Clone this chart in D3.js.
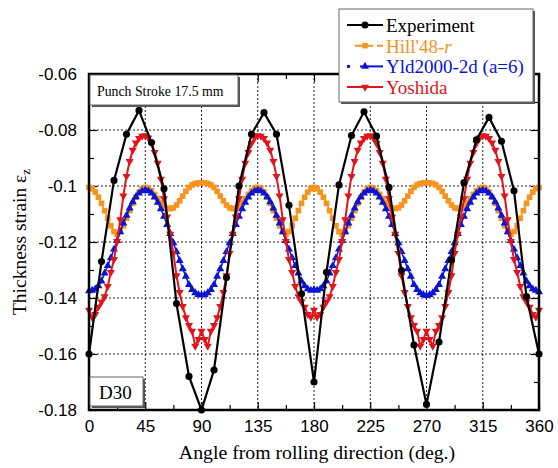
<!DOCTYPE html>
<html>
<head>
<meta charset="utf-8">
<script src="https://cdn.jsdelivr.net/npm/d3@7"></script>
<style>
  body { margin: 0; background: #fff; }
  svg { display: block; }
  .serif { font-family: "Liberation Serif", "DejaVu Serif", serif; }
  .tick text { font-family: "Liberation Sans", Arial, sans-serif; font-size: 17px; fill: #000; }
</style>
</head>
<body>
<script>
// ---- data ----
var xTicks = [0, 45, 90, 135, 180, 225, 270, 315, 360];
var yTicks = [-0.18, -0.16, -0.14, -0.12, -0.1, -0.08, -0.06];

// measured angles (every 10 deg)
var expAngles = [0,10,20,30,40,50,60,70,80,90,100,110,120,130,140,150,160,170,180,
  190,200,210,220,230,240,250,260,270,280,290,300,310,320,330,340,350,360];
var experiment = [-0.160,-0.127,-0.098,-0.0815,-0.073,-0.0845,-0.101,-0.142,-0.168,-0.180,
  -0.1657,-0.1327,-0.100,-0.0815,-0.0738,-0.0815,-0.1069,-0.1385,-0.170,
  -0.1308,-0.0996,-0.082,-0.0735,-0.0822,-0.1005,-0.1302,-0.1568,-0.178,-0.1557,
  -0.1264,-0.0988,-0.0835,-0.0755,-0.084,-0.1017,-0.1395,-0.160];

// model curves, sampled every 2.5 deg from 0 to 360
var modelAngles = d3.range(0, 360.01, 2.5);

var hill48 = [
  -0.1005,-0.1010,-0.1022,-0.1040,-0.1062,-0.1088,-0.1115,-0.1142,-0.1163,-0.1172,
  -0.1163,-0.1142,-0.1115,-0.1088,-0.1062,-0.1040,-0.1022,-0.1010,-0.1005,-0.1008,
  -0.1017,-0.1030,-0.1045,-0.1060,-0.1072,-0.1079,-0.1081,-0.1078,-0.1068,-0.1053,
  -0.1036,-0.1019,-0.1005,-0.0996,-0.0991,-0.0989,-0.0988,-0.0989,-0.0991,-0.0996,
  -0.1005,-0.1019,-0.1036,-0.1053,-0.1068,-0.1078,-0.1081,-0.1079,-0.1072,-0.1060,
  -0.1045,-0.1030,-0.1017,-0.1008,-0.1005,-0.1010,-0.1022,-0.1040,-0.1062,-0.1088,
  -0.1115,-0.1142,-0.1163,-0.1172,-0.1163,-0.1142,-0.1115,-0.1088,-0.1062,-0.1040,
  -0.1022,-0.1010,-0.1005,
  -0.1010,-0.1022,-0.1040,-0.1062,-0.1088,-0.1115,-0.1142,-0.1163,-0.1172,
  -0.1163,-0.1142,-0.1115,-0.1088,-0.1062,-0.1040,-0.1022,-0.1010,-0.1005,-0.1008,
  -0.1017,-0.1030,-0.1045,-0.1060,-0.1072,-0.1079,-0.1081,-0.1078,-0.1068,-0.1053,
  -0.1036,-0.1019,-0.1005,-0.0996,-0.0991,-0.0989,-0.0988,-0.0989,-0.0991,-0.0996,
  -0.1005,-0.1019,-0.1036,-0.1053,-0.1068,-0.1078,-0.1081,-0.1079,-0.1072,-0.1060,
  -0.1045,-0.1030,-0.1017,-0.1008,-0.1005,-0.1010,-0.1022,-0.1040,-0.1062,-0.1088,
  -0.1115,-0.1142,-0.1163,-0.1172,-0.1163,-0.1142,-0.1115,-0.1088,-0.1062,-0.1040,
  -0.1022,-0.1010,-0.1005];

var yld2000 = [
  -0.1375,-0.1373,-0.1368,-0.1357,-0.1340,-0.1311,-0.1285,-0.1257,-0.1226,-0.1195,
  -0.1164,-0.1133,-0.1105,-0.1079,-0.1057,-0.1039,-0.1026,-0.1018,-0.1015,-0.1018,
  -0.1026,-0.1040,-0.1059,-0.1082,-0.1109,-0.1138,-0.1170,-0.1203,-0.1235,-0.1267,
  -0.1296,-0.1323,-0.1352,-0.1370,-0.1382,-0.1388,-0.1390,-0.1388,-0.1382,-0.1370,
  -0.1352,-0.1323,-0.1296,-0.1267,-0.1235,-0.1203,-0.1170,-0.1138,-0.1109,-0.1082,
  -0.1059,-0.1040,-0.1026,-0.1018,-0.1015,-0.1018,-0.1026,-0.1039,-0.1057,-0.1079,
  -0.1105,-0.1133,-0.1164,-0.1195,-0.1226,-0.1257,-0.1285,-0.1311,-0.1340,-0.1357,
  -0.1368,-0.1373,-0.1370,
  -0.1373,-0.1368,-0.1357,-0.1340,-0.1311,-0.1285,-0.1257,-0.1226,-0.1195,
  -0.1164,-0.1133,-0.1105,-0.1079,-0.1057,-0.1039,-0.1026,-0.1018,-0.1015,-0.1018,
  -0.1026,-0.1040,-0.1059,-0.1082,-0.1109,-0.1138,-0.1170,-0.1203,-0.1235,-0.1267,
  -0.1296,-0.1323,-0.1352,-0.1370,-0.1382,-0.1388,-0.1392,-0.1388,-0.1382,-0.1370,
  -0.1352,-0.1323,-0.1296,-0.1267,-0.1235,-0.1203,-0.1170,-0.1138,-0.1109,-0.1082,
  -0.1059,-0.1040,-0.1026,-0.1018,-0.1015,-0.1018,-0.1026,-0.1039,-0.1057,-0.1079,
  -0.1105,-0.1133,-0.1164,-0.1195,-0.1226,-0.1257,-0.1285,-0.1311,-0.1340,-0.1357,
  -0.1368,-0.1373,-0.1378];

var yoshida = [
  -0.1443,-0.1468,-0.1458,-0.1432,-0.1414,-0.1395,-0.1358,-0.1308,-0.1262,-0.1198,
  -0.1120,-0.1035,-0.0965,-0.0912,-0.0872,-0.0846,-0.0830,-0.0822,-0.0820,-0.0828,
  -0.0848,-0.0880,-0.0918,-0.0975,-0.1045,-0.1110,-0.1172,-0.1240,-0.1320,-0.1380,
  -0.1430,-0.1470,-0.1498,-0.1518,-0.1572,-0.1548,-0.1518,-0.1548,-0.1572,-0.1518,
  -0.1498,-0.1470,-0.1430,-0.1380,-0.1320,-0.1240,-0.1172,-0.1110,-0.1045,-0.0975,
  -0.0918,-0.0880,-0.0848,-0.0828,-0.0820,-0.0822,-0.0830,-0.0846,-0.0872,-0.0912,
  -0.0965,-0.1035,-0.1120,-0.1198,-0.1262,-0.1308,-0.1358,-0.1395,-0.1414,-0.1432,
  -0.1458,-0.1468,-0.1443,
  -0.1468,-0.1458,-0.1432,-0.1414,-0.1395,-0.1358,-0.1308,-0.1262,-0.1198,
  -0.1120,-0.1035,-0.0965,-0.0912,-0.0872,-0.0846,-0.0830,-0.0822,-0.0820,-0.0828,
  -0.0848,-0.0880,-0.0918,-0.0975,-0.1045,-0.1110,-0.1172,-0.1240,-0.1320,-0.1380,
  -0.1430,-0.1470,-0.1498,-0.1518,-0.1572,-0.1548,-0.1518,-0.1548,-0.1572,-0.1518,
  -0.1498,-0.1470,-0.1430,-0.1380,-0.1320,-0.1240,-0.1172,-0.1110,-0.1045,-0.0975,
  -0.0918,-0.0880,-0.0848,-0.0828,-0.0820,-0.0822,-0.0830,-0.0846,-0.0872,-0.0912,
  -0.0965,-0.1035,-0.1120,-0.1198,-0.1262,-0.1308,-0.1358,-0.1395,-0.1414,-0.1432,
  -0.1458,-0.1468,-0.1443];

// ---- layout ----
var W = 558, H = 468;
var plotLeft = 89, plotRight = 539, plotTop = 74, plotBottom = 410;

var svg = d3.select("body").append("svg")
    .attr("width", W)
    .attr("height", H);

var x = d3.scaleLinear().domain([0, 360]).range([plotLeft, plotRight]);
var y = d3.scaleLinear().domain([-0.18, -0.06]).range([plotBottom, plotTop]);

// dotted grid at the major ticks
svg.append("g").selectAll("line")
    .data(xTicks.slice(1, -1))
    .enter().append("line")
    .attr("x1", function(d) { return x(d); })
    .attr("x2", function(d) { return x(d); })
    .attr("y1", plotTop).attr("y2", plotBottom)
    .attr("stroke", "#222").attr("stroke-width", 1)
    .attr("stroke-dasharray", "2,2");

svg.append("g").selectAll("line")
    .data(yTicks.slice(1, -1))
    .enter().append("line")
    .attr("x1", plotLeft).attr("x2", plotRight)
    .attr("y1", function(d) { return y(d); })
    .attr("y2", function(d) { return y(d); })
    .attr("stroke", "#222").attr("stroke-width", 1)
    .attr("stroke-dasharray", "2,2");

// axes, ticks pointing inward
var xMinor = d3.range(22.5, 360, 45);
var yMinor = [-0.17, -0.15, -0.13, -0.11, -0.09, -0.07];

function styleAxis(g) {
    g.select(".domain").remove();
    g.selectAll(".tick line").attr("stroke", "#000").attr("stroke-width", 1.2);
}

svg.append("g")
    .attr("transform", "translate(0," + plotBottom + ")")
    .call(d3.axisBottom(x).tickValues(xTicks).tickSizeInner(-8).tickSizeOuter(0).tickPadding(10)
        .tickFormat(d3.format("d")))
    .call(styleAxis);
svg.append("g")
    .attr("transform", "translate(0," + plotBottom + ")")
    .call(d3.axisBottom(x).tickValues(xMinor).tickSizeInner(-5).tickSizeOuter(0).tickFormat(""))
    .call(styleAxis);
svg.append("g")
    .attr("transform", "translate(0," + plotTop + ")")
    .call(d3.axisTop(x).tickValues(xTicks).tickSizeInner(-8).tickSizeOuter(0).tickFormat(""))
    .call(styleAxis);
svg.append("g")
    .attr("transform", "translate(0," + plotTop + ")")
    .call(d3.axisTop(x).tickValues(xMinor).tickSizeInner(-5).tickSizeOuter(0).tickFormat(""))
    .call(styleAxis);

svg.append("g")
    .attr("transform", "translate(" + plotLeft + ",0)")
    .call(d3.axisLeft(y).tickValues(yTicks).tickSizeInner(-8).tickSizeOuter(0).tickPadding(12)
        .tickFormat(function(d) { return String(+d.toFixed(2)); }))
    .call(styleAxis);
svg.append("g")
    .attr("transform", "translate(" + plotLeft + ",0)")
    .call(d3.axisLeft(y).tickValues(yMinor).tickSizeInner(-5).tickSizeOuter(0).tickFormat(""))
    .call(styleAxis);
svg.append("g")
    .attr("transform", "translate(" + plotRight + ",0)")
    .call(d3.axisRight(y).tickValues(yTicks).tickSizeInner(-8).tickSizeOuter(0).tickFormat(""))
    .call(styleAxis);
svg.append("g")
    .attr("transform", "translate(" + plotRight + ",0)")
    .call(d3.axisRight(y).tickValues(yMinor).tickSizeInner(-5).tickSizeOuter(0).tickFormat(""))
    .call(styleAxis);

// ---- series ----
var series = [
    { name: "hill", values: hill48, angles: modelAngles, color: "#f7941d", width: 1.5,
      symbol: d3.symbolSquare, size: 32, rotate: 0 },
    { name: "yld", values: yld2000, angles: modelAngles, color: "#0a14d2", width: 1.5,
      symbol: d3.symbolTriangle, size: 28, rotate: 0 },
    { name: "yoshida", values: yoshida, angles: modelAngles, color: "#e2141b", width: 2,
      symbol: d3.symbolTriangle, size: 28, rotate: 180 },
    { name: "exp", values: experiment, angles: expAngles, color: "#000", width: 2.2,
      symbol: d3.symbolCircle, size: 40, rotate: 0 }
];

var line = d3.line()
    .x(function(d) { return x(d[0]); })
    .y(function(d) { return y(d[1]); });

series.forEach(function(s) {
    var pts = s.angles.map(function(a, i) { return [a, s.values[i]]; });
    var g = svg.append("g").attr("class", s.name);
    g.append("path")
        .datum(pts)
        .attr("d", line)
        .attr("fill", "none")
        .attr("stroke", s.color)
        .attr("stroke-width", s.width)
        .attr("stroke-linejoin", "miter");
    g.selectAll("path.m")
        .data(pts)
        .enter().append("path")
        .attr("class", "m")
        .attr("d", d3.symbol().type(s.symbol).size(s.size))
        .attr("transform", function(d) {
            return "translate(" + x(d[0]) + "," + y(d[1]) + ") rotate(" + s.rotate + ")";
        })
        .attr("fill", s.color);
});

// plot frame
svg.append("rect")
    .attr("x", plotLeft).attr("y", plotTop)
    .attr("width", plotRight - plotLeft).attr("height", plotBottom - plotTop)
    .attr("fill", "none").attr("stroke", "#000").attr("stroke-width", 2.5);

// ---- boxes with a drop shadow ----
function shadowBox(x0, y0, w, h) {
    svg.append("rect").attr("x", x0 + 2).attr("y", y0 + 2).attr("width", w).attr("height", h)
        .attr("fill", "#555");
    svg.append("rect").attr("x", x0).attr("y", y0).attr("width", w).attr("height", h)
        .attr("fill", "#fff").attr("stroke", "#666").attr("stroke-width", 1);
}

shadowBox(90, 75, 148, 30);
svg.append("text").attr("class", "serif")
    .attr("x", 97).attr("y", 96)
    .attr("font-size", 13.8)
    .text("Punch Stroke 17.5 mm");

shadowBox(90, 377, 53, 29);
svg.append("text").attr("class", "serif")
    .attr("x", 99).attr("y", 399)
    .attr("font-size", 19)
    .text("D30");

// ---- legend ----
shadowBox(339, 9, 194, 93);
var legendRows = [
    { label: "Experiment", color: "#000", symbol: d3.symbolCircle, size: 40, rotate: 0 },
    { label: "Hill'48-", italic: "r", color: "#f7941d", symbol: d3.symbolSquare, size: 30, rotate: 0, dash: "7,4" },
    { label: "Yld2000-2d (a=6)", color: "#0a14d2", symbol: d3.symbolTriangle, size: 28, rotate: 0, dot: true },
    { label: "Yoshida", color: "#e2141b", symbol: d3.symbolTriangle, size: 28, rotate: 180 }
];

var leg = svg.append("g").selectAll("g")
    .data(legendRows)
    .enter().append("g")
    .attr("transform", function(d, i) { return "translate(0," + (25 + i * 20.7) + ")"; });

leg.append("line")
    .attr("x1", function(d) { return d.dash ? 355 : (d.dot ? 360 : 347); })
    .attr("x2", 383)
    .attr("stroke", function(d) { return d.color; })
    .attr("stroke-width", 2)
    .attr("stroke-dasharray", function(d) { return d.dash || null; });

leg.filter(function(d) { return d.dot; }).append("rect")
    .attr("x", 347).attr("y", -1.5).attr("width", 3).attr("height", 3)
    .attr("fill", function(d) { return d.color; });

leg.append("path")
    .attr("d", function(d) { return d3.symbol().type(d.symbol).size(d.size)(); })
    .attr("transform", function(d) { return "translate(365,0) rotate(" + d.rotate + ")"; })
    .attr("fill", function(d) { return d.color; });

var legText = leg.append("text")
    .attr("class", "serif")
    .attr("x", 386).attr("y", 7)
    .attr("font-size", 19)
    .attr("fill", function(d) { return d.color; })
    .text(function(d) { return d.label; });
legText.filter(function(d) { return d.italic; })
    .append("tspan").attr("font-style", "italic")
    .text(function(d) { return d.italic; });

// ---- axis titles ----
svg.append("text").attr("class", "serif")
    .attr("x", 317).attr("y", 459)
    .attr("text-anchor", "middle")
    .attr("font-size", 19.8)
    .text("Angle from rolling direction (deg.)");

var yTitle = svg.append("text").attr("class", "serif")
    .attr("transform", "translate(26," + ((plotTop + plotBottom) / 2) + ") rotate(-90)")
    .attr("text-anchor", "middle")
    .attr("font-size", 19.5)
    .text("Thickness strain \u03b5");
yTitle.append("tspan").attr("font-size", 13).attr("dy", 4).text("z");
</script>
</body>
</html>
